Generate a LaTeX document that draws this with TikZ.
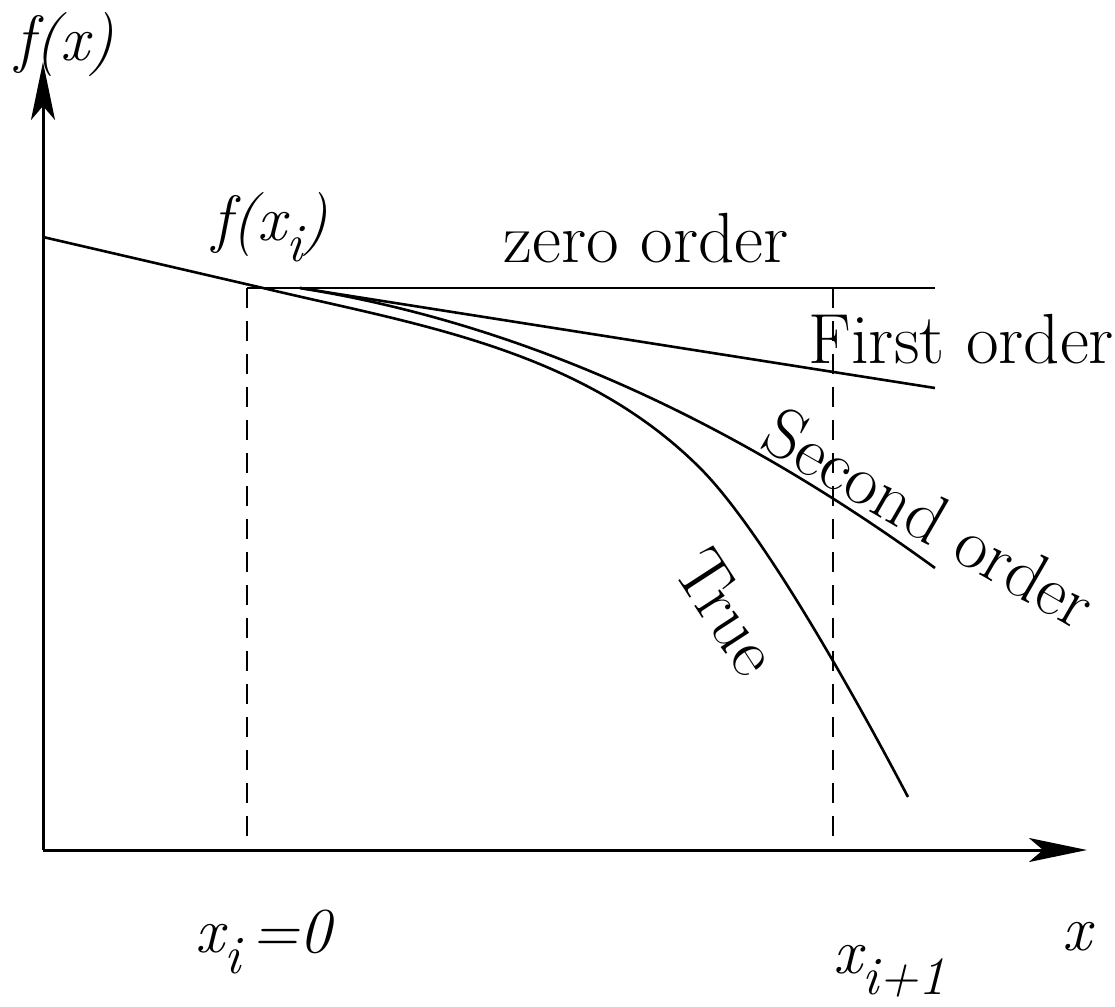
\documentclass[tikz,border=0pt]{standalone}
\usepackage{fontspec}
\usetikzlibrary{arrows.meta}
\newcommand\lowsub[1]{\raisebox{-0.34em}{\fontsize{27}{28}\selectfont #1}}
\tikzset{
  axis/.style={line width=1.5pt,-{Stealth[length=29pt,width=12pt,inset=7pt]}},
  curve/.style={line width=1.3pt},
  guide/.style={line width=1.2pt,dash pattern=on 10pt off 6.5pt},
  lbl/.style={inner sep=0pt,font=\fontsize{35.5}{40}\selectfont},
  mlbl/.style={inner sep=0pt,font=\fontsize{32}{38}\selectfont\itshape}
}
\begin{document}
\begin{tikzpicture}[x=0.5pt,y=-0.5pt]
\useasboundingbox (0,0) rectangle (1115,1007);
% key points
\coordinate (O) at (43,850);
\coordinate (ytip) at (43,62);
\coordinate (xtip) at (1087,850);
\coordinate (A) at (247,288);
\coordinate (Ab) at (247,850);
\coordinate (B) at (833,288);
\coordinate (Bb) at (833,850);
\coordinate (Z) at (935,288);
\coordinate (S) at (300,288);
\coordinate (F) at (935,388);
\coordinate (Q) at (935,568);
\coordinate (T0) at (43,237);
\coordinate (T1) at (263,288);
\coordinate (T2) at (700,468);
\coordinate (T3) at (908,797);
% axes
\draw[axis] (O) -- (ytip);
\draw[axis] (O) -- (xtip);
% guides
\draw[guide] (A) -- (Ab);
\draw[guide] (B) -- (Bb);
% zero order
\draw[curve] (A) -- (Z);
% first order
\draw[curve] (S) -- (F);
% second order
\draw[curve] (S) .. controls (505,321) and (715,408) .. (Q);
% true
\draw[curve] (T0) -- (T1) .. controls (413,324) and (580,348) .. (T2)
  .. controls (760,528) and (848,683) .. (T3);
% labels
\node[mlbl,anchor=base] (fx) at (65,60) {f(x)};
\node[mlbl,anchor=base west] (fxi) at (212,240) {f(x\lowsub{i})};
\node[lbl,anchor=base] (zero) at (646,262) {zero order};
\node[lbl,anchor=base west] (first) at (808,363) {First order};
\node[lbl,rotate=-30] (second) at (930,518) {Second order};
\node[lbl,rotate=-57] (true) at (727,612) {True};
\node[mlbl,anchor=base west] (xi) at (195,952) {x\lowsub{i}\,=0};
\node[mlbl,anchor=base west] (xi1) at (833,973) {x\lowsub{i+1}};
\node[mlbl,anchor=base west] (xl) at (1062,950) {x};
\end{tikzpicture}
\end{document}
